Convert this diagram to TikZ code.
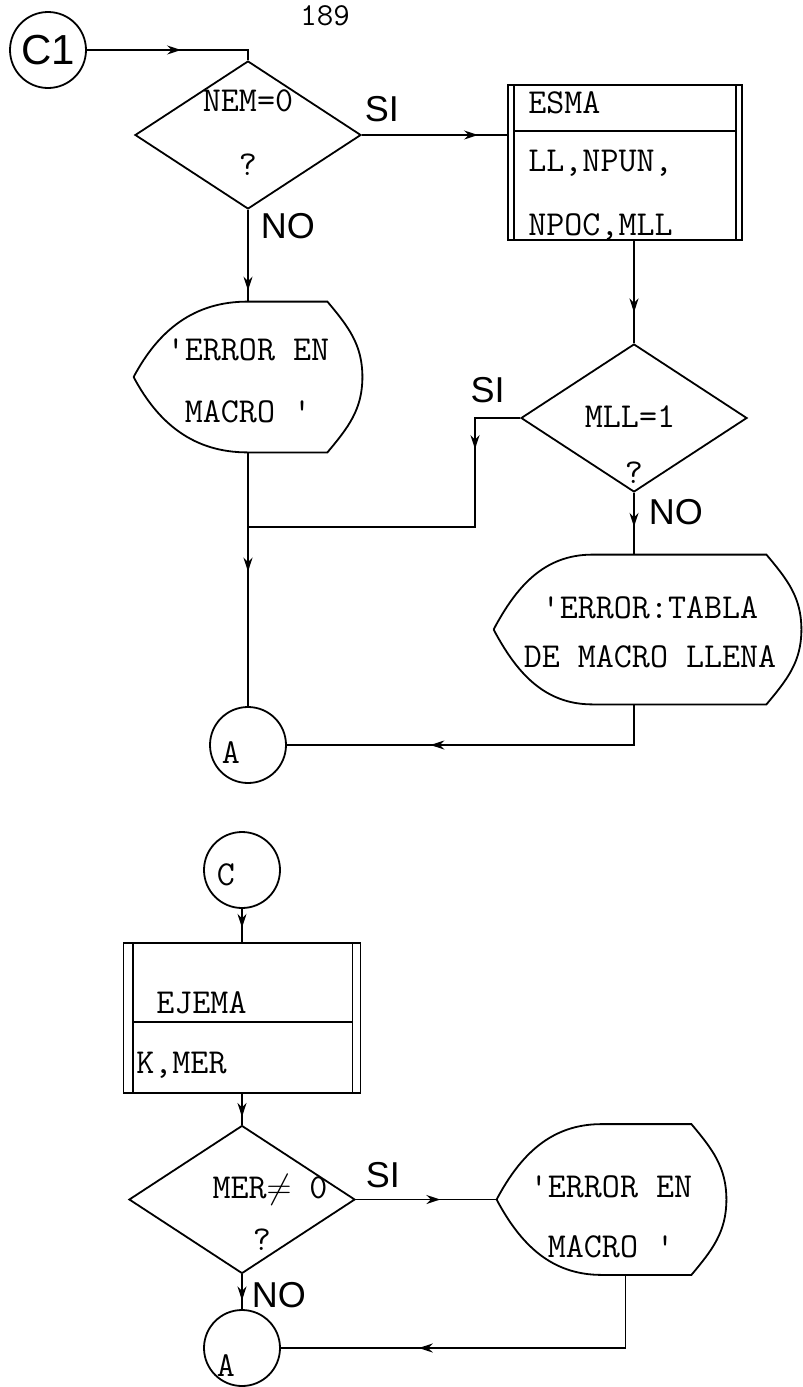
\documentclass[tikz,border=0pt]{standalone}
\usepackage{fontspec}
\newfontfamily\stencil{Liberation Sans}
\usetikzlibrary{arrows.meta,shapes.geometric,decorations.markings}

% outline of a display symbol: #1 node, #2 width of the pointed left part
\newcommand{\dispoutline}[2]{%
  \draw[line width=0.9pt] (#1.west) to[out=62,in=180] ([xshift=#2]#1.north west)
    -- ([xshift=-17.5pt]#1.north east) to[out=-50,in=90] (#1.east)
    to[out=-90,in=50] ([xshift=-17.5pt]#1.south east)
    -- ([xshift=#2]#1.south west) to[out=180,in=-62] (#1.west);}

\begin{document}
\begin{tikzpicture}[x=0.5pt,y=0.5pt,
  line/.style={line width=0.9pt},
  flow/.style={line width=0.9pt,postaction={decorate},
    decoration={markings,mark=at position #1 with {\arrow{Stealth[length=7pt,width=4.5pt]}}}},
  dec/.style={diamond,draw,line width=0.9pt,minimum width=113pt,minimum height=74pt,inner sep=0pt},
  conn/.style={circle,draw,line width=0.9pt,minimum size=38pt,inner sep=0pt},
  subr/.style={rectangle,draw,line width=0.9pt,inner sep=0pt},
  dispbox/.style={rectangle,inner sep=0pt},
  tt/.style={font=\ttfamily\fontsize{17.5}{20}\selectfont,inner sep=0pt},
  disp/.style={tt,align=center},
  lbl/.style={font=\stencil\fontsize{18}{18}\selectfont,inner sep=0pt}
]
\useasboundingbox (0,0) rectangle (803,-1387);

\node[tt,font=\ttfamily\fontsize{16}{16}\selectfont,anchor=north] (pg) at (325,-5) {189};

% upper chart
\node[conn,font=\stencil\fontsize{21}{21}\selectfont] (c1) at (48,-50) {C1};
\node[dec] (d1) at (248,-135) {};
\node[tt] (d1a) at (248,-101) {NEM=0};
\node[tt] (d1b) at (248,-165) {?};

\node[subr,minimum width=117pt,minimum height=77.5pt] (esma) at (625,-162.5) {};
\draw[line] ([xshift=3.5pt]esma.north west) -- ([xshift=3.5pt]esma.south west);
\draw[line] ([xshift=-3.5pt]esma.north east) -- ([xshift=-3.5pt]esma.south east);
\draw[line] ([xshift=3.5pt,yshift=-23.5pt]esma.north west) -- ([xshift=-3.5pt,yshift=-23.5pt]esma.north east);
\node[tt,anchor=west] (esma1) at (528,-103) {ESMA};
\node[tt,anchor=west] (esma2) at (528,-163) {LL,NPUN,};
\node[tt,anchor=west] (esma3) at (528,-227) {NPOC,MLL};

\node[dispbox,minimum width=114pt,minimum height=75pt] (m1) at (248,-377) {};
\dispoutline{m1}{57pt}
\node[disp] (m1t) at (248,-381) {'ERROR EN\\[11pt]MACRO '};

\node[dec] (d2) at (634,-418) {};
\node[tt] (d2a) at (630,-417) {MLL=1};
\node[tt] (d2b) at (634,-473) {?};

\node[dispbox,minimum width=153.5pt,minimum height=74.5pt] (m2) at (647.5,-629.5) {};
\dispoutline{m2}{49.5pt}
\node[disp] (m2t) at (650,-632) {'ERROR:TABLA\\[4.5pt]DE MACRO LLENA};

\node[conn] (a1) at (248,-745) {};
\node[tt] (a1t) at (231,-753) {A};
\coordinate (j1) at (248,-527);
\coordinate (k1) at (475,-527);

\draw[flow=0.55] (c1.east) -| (d1.north);
\draw[flow=0.8] (d1.east) -- (d1.east -| esma.west)
  node[lbl,pos=0,anchor=south west,xshift=1pt,yshift=6pt] (si1) {SI};
\draw[flow=0.88] (d1.south) -- (m1.north)
  node[lbl,pos=0,anchor=north west,xshift=6pt,yshift=-1.5pt] (no1) {NO};
\draw[flow=0.7] (esma.south -| d2.north) -- (d2.north);
\draw[flow=0.47] (m1.south) -- (a1.north);
\draw[flow=0.2] (d2.west) -| (k1) -- (j1);
\node[lbl,anchor=south east] (si2) at (505,-403) {SI};
\draw[flow=0.55] (d2.south) -- (d2.south |- m2.north)
  node[lbl,pos=0,anchor=north west,xshift=7pt,yshift=-3pt] (no2) {NO};
\draw[flow=0.63] (d2.south |- m2.south) |- (a1.east);

% lower chart
\node[conn] (c) at (242,-870) {};
\node[tt] (ct) at (226,-875) {C};

\node[subr,minimum width=118.5pt,minimum height=75pt] (ej) at (242,-1018) {};
\draw[line] ([xshift=5pt]ej.north west) -- ([xshift=5pt]ej.south west);
\draw[line] ([xshift=-4.5pt]ej.north east) -- ([xshift=-4.5pt]ej.south east);
\draw[line] ([xshift=5pt,yshift=-40pt]ej.north west) -- ([xshift=-4.5pt,yshift=-40pt]ej.north east);
\node[tt,anchor=west] (ej1) at (156,-1003) {EJEMA};
\node[tt,anchor=west] (ej2) at (136,-1065) {K,MER};

\node[dec] (d3) at (242,-1199.5) {};
\node[tt] (d3a) at (270,-1190) {MER$\neq$ 0};
\node[tt] (d3b) at (262,-1240) {?};

\node[dispbox,minimum width=114.5pt,minimum height=75pt] (m3) at (611.5,-1199.5) {};
\dispoutline{m3}{52.5pt}
\node[disp] (m3t) at (611,-1217) {'ERROR EN\\[10pt]MACRO '};

\node[conn] (a2) at (242,-1348) {};
\node[tt] (a2t) at (226,-1366) {A};

\draw[flow=0.57] (c.south) -- (ej.north);
\draw[flow=0.75] (ej.south) -- (d3.north);
\draw[flow=0.6] (d3.east) -- (m3.west)
  node[lbl,pos=0,anchor=south west,xshift=4.5pt,yshift=5.5pt] (si3) {SI};
\draw[flow=0.75] (d3.south) -- (a2.north)
  node[lbl,pos=0,anchor=north west,xshift=4.5pt,yshift=-3.5pt] (no3) {NO};
\draw[flow=0.67] ([xshift=7pt]m3.south) |- (a2.east);
\end{tikzpicture}
\end{document}
